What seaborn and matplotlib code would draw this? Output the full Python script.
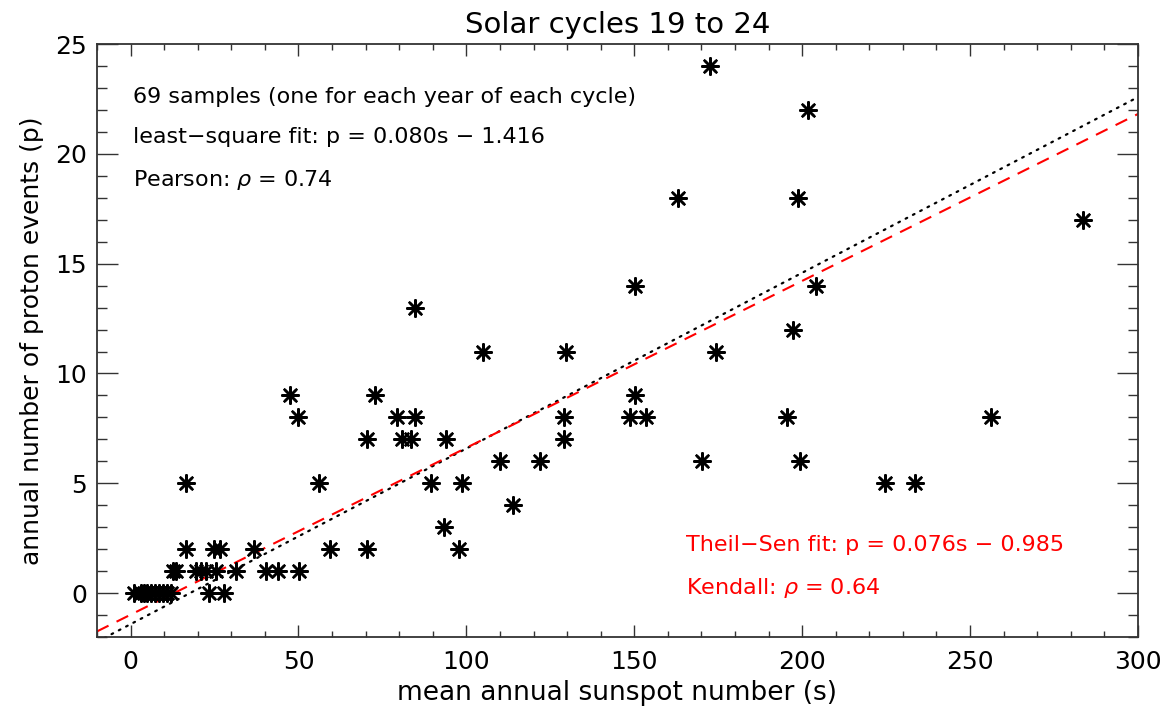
import numpy as np
import pandas as pd
import matplotlib
matplotlib.use("Agg")
import matplotlib.pyplot as plt
import seaborn as sns
from matplotlib.ticker import MultipleLocator

# Mean annual sunspot number (s) and annual number of proton events (p),
# one sample per year of solar cycles 19-24
sunspots = [
    172.7, 201.6, 163.0, 198.8, 283.7, 150.3, 204.1, 84.8, 197.3, 105.0,
    129.6, 174.3, 47.4, 72.7, 150.1, 50.0, 79.3, 84.6, 129.0, 148.8,
    153.4, 195.6, 256.1, 70.5, 80.9, 83.4, 94.0, 129.0, 110.0, 122.0,
    170.2, 199.3, 16.6, 56.0, 89.6, 98.7, 224.6, 233.5, 114.0, 93.2,
    16.6, 24.8, 26.5, 36.7, 59.5, 70.4, 97.7,
    12.5, 13.6, 19.6, 21.0, 22.5, 25.3, 31.5, 40.4, 43.9, 50.3,
    1.0, 3.0, 4.0, 5.0, 6.2, 7.4, 8.6, 9.8, 11.0, 11.9, 23.5, 27.9,
]
proton_events = [
    24, 22, 18, 18, 17, 14, 14, 13, 12, 11,
    11, 11, 9, 9, 9, 8, 8, 8, 8, 8,
    8, 8, 8, 7, 7, 7, 7, 7, 6, 6,
    6, 6, 5, 5, 5, 5, 5, 5, 4, 3,
    2, 2, 2, 2, 2, 2, 2,
    1, 1, 1, 1, 1, 1, 1, 1, 1, 1,
    0, 0, 0, 0, 0, 0, 0, 0, 0, 0, 0, 0,
]

# Fit parameters and correlation coefficients
ls_slope, ls_intercept = 0.080, -1.416
ts_slope, ts_intercept = 0.076, -0.985
pearson_rho = 0.74
kendall_rho = 0.64

x_range = (-10, 300)
y_range = (-2, 25)

sns.set_theme(style="ticks")
plt.rcParams["font.family"] = ["DejaVu Sans"]
plt.rcParams["mathtext.fontset"] = "dejavusans"
for key in ["text.color", "axes.labelcolor", "xtick.labelcolor", "ytick.labelcolor"]:
    plt.rcParams[key] = "black"

fig = plt.figure(figsize=(11.71, 7.16), dpi=100)
ax = fig.add_axes([0.0828, 0.1103, 0.889, 0.8282])

df = pd.DataFrame({"s": sunspots, "p": proton_events})

# Fit lines across the full x range
xs = np.linspace(x_range[0], x_range[1], 2)
sns.lineplot(x=xs, y=ls_slope * xs + ls_intercept, ax=ax, color="black",
             linewidth=1.6, estimator=None)
ax.lines[-1].set_linestyle((0, (0.8, 2.9)))
ax.lines[-1].set_dash_capstyle("round")
sns.lineplot(x=xs, y=ts_slope * xs + ts_intercept, ax=ax, color="red",
             linewidth=1.5, estimator=None)
ax.lines[-1].set_linestyle((0, (6.2, 4.3)))

sns.scatterplot(data=df, x="s", y="p", ax=ax, marker=(8, 2, 0), s=140,
                color="black", edgecolor="black", linewidth=1.8, zorder=3)

ax.set_xlim(*x_range)
ax.set_ylim(*y_range)

ax.xaxis.set_major_locator(MultipleLocator(50))
ax.xaxis.set_minor_locator(MultipleLocator(10))
ax.yaxis.set_major_locator(MultipleLocator(5))
ax.yaxis.set_minor_locator(MultipleLocator(1))

ax.tick_params(which="both", direction="in", top=True, right=True,
               color="#333333", width=1.0, labelsize=18, labelcolor="black")
ax.tick_params(axis="x", which="major", length=8.6, pad=9)
ax.tick_params(axis="x", which="minor", length=4.3)
ax.tick_params(axis="y", which="major", length=15, pad=7)
ax.tick_params(axis="y", which="minor", length=7.5)

for side in ["left", "right", "top", "bottom"]:
    ax.spines[side].set_visible(True)
    ax.spines[side].set_color("#333333")
    ax.spines[side].set_linewidth(1.3)

ax.set_title("Solar cycles 19 to 24", fontsize=21, pad=8, color="black")
ax.set_xlabel("mean annual sunspot number (s)", fontsize=19, labelpad=5, color="black")
ax.set_ylabel("annual number of proton events (p)", fontsize=18, labelpad=8, color="black")

# Statistics annotations
txt_kw = dict(fontsize=16, va="center", ha="left")
ax.text(0.6, 22.6, f"{len(sunspots)} samples (one for each year of each cycle)",
        color="black", **txt_kw)
ax.text(0.6, 20.75, f"least\u2212square fit: p = {ls_slope:.3f}s \u2212 {abs(ls_intercept):.3f}",
        color="black", **txt_kw)
ax.text(0.6, 18.8, rf"Pearson: $\rho$ = {pearson_rho:.2f}", color="black", **txt_kw)
ax.text(165.3, 2.2, f"Theil\u2212Sen fit: p = {ts_slope:.3f}s \u2212 {abs(ts_intercept):.3f}",
        color="red", **txt_kw)
ax.text(165.3, 0.25, rf"Kendall: $\rho$ = {kendall_rho:.2f}", color="red", **txt_kw)

fig.savefig("out.png", dpi=100, facecolor="white")
